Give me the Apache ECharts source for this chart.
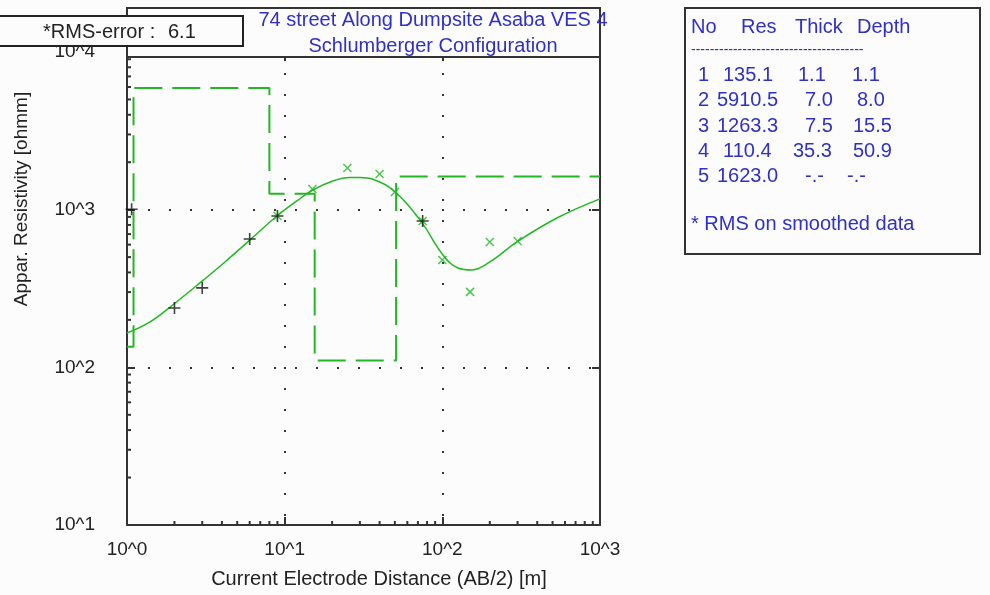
<!DOCTYPE html>
<html><head><meta charset="utf-8">
<script src="https://cdn.jsdelivr.net/npm/echarts@6/dist/echarts.min.js"></script>
<style>html,body{margin:0;padding:0;background:#fcfcfc}#c{width:990px;height:595px}</style>
</head><body><div id="c"></div>
<script>
// ---- data ----
const titleLines = ['74 street Along Dumpsite Asaba VES 4', 'Schlumberger Configuration'];
const rmsLabel = '*RMS-error :';
const rmsValue = '6.1';
const xAxisName = 'Current Electrode Distance (AB/2) [m]';
const yAxisName = 'Appar. Resistivity [ohmm]';
const xTickLabels = ['10^0', '10^1', '10^2', '10^3'];
const yTickLabels = ['10^1', '10^2', '10^3', '10^4'];

const tableHeader = ['No', 'Res', 'Thick', 'Depth'];
const layerNo = ['1', '2', '3', '4', '5'];
const layerRes = ['135.1', '5910.5', '1263.3', '110.4', '1623.0'];
const layerThick = ['1.1', '7.0', '7.5', '35.3', '-.-'];
const layerDepth = ['1.1', '8.0', '15.5', '50.9', '-.-'];
const tableNote = '* RMS on smoothed data';

const modelRes = [135.1, 5910.5, 1263.3, 110.4, 1623.0];
const modelDepth = [1.1, 8.0, 15.5, 50.9];

const fieldPlusX = [1.07, 2, 3, 6, 9, 75];
const fieldPlusY = [1006, 238, 319, 652, 912, 848];
const fieldCrossX = [9, 15, 25, 40, 50, 75, 100, 150, 200, 300];
const fieldCrossY = [912, 1353, 1838, 1684, 1295, 848, 480, 301, 624, 633];

const curveX = [1, 1.4, 2.02, 2.9, 4.18, 6.03, 8.93, 12.0, 15.1, 20.2, 25.9, 30, 36.3, 48.6, 72.1, 100.9, 125.6, 154, 200, 297, 533, 1000];
const curveY = [165, 194, 256, 343, 466, 643, 912, 1140, 1333, 1520, 1600, 1600, 1560, 1333, 861, 516, 427, 415, 466, 624, 885, 1170];

// ---- build ----
const green = '#22b822';
const axisColor = '#333';
const textColor = '#222';
const blue = '#3030c4';
const FONT = 'Liberation Sans, Arial, sans-serif';

const stepData = [];
let xs = 1;
modelRes.forEach((r, i) => {
  const xe = i < modelDepth.length ? modelDepth[i] : 1000;
  if (i > 0) stepData.push([xs, modelRes[i - 1]]);
  stepData.push([xs, r]);
  stepData.push([xe, r]);
  xs = xe;
});

const minorTicks = [];
[1, 10, 100].forEach(d => { for (let k = 2; k <= 9; k++) minorTicks.push([k * d, 10, 0]); });
[10, 100, 1000].forEach(d => { for (let k = 2; k <= 9; k++) minorTicks.push([1, k * d, 1]); });

const chart = echarts.init(document.getElementById('c'), null, {renderer: 'canvas'});

const baseX = {
  type: 'log', logBase: 10, min: 1, max: 1000, splitNumber: 3,
  axisLine: {show: true, lineStyle: {color: axisColor, width: 2}},
  axisTick: {show: true, inside: true, length: 8, lineStyle: {color: axisColor, width: 2}},
  minorTick: {show: false}
};
const baseY = {
  type: 'log', logBase: 10, min: 10, max: 10000, splitNumber: 3,
  axisLine: {show: true, lineStyle: {color: axisColor, width: 2}},
  axisTick: {show: true, inside: true, length: 8, lineStyle: {color: axisColor, width: 2}},
  minorTick: {show: false}
};

const tableColX = [[698, 698, 698, 698, 698], [723, 717, 717, 723, 717], [798, 805, 805, 793, 805], [852, 857, 853, 853, 847]];
const rowY = [75, 100, 126, 151, 176];
const tableGraphics = [];
const headerX = [691, 741, 795, 857];
const TF = '20px ' + FONT;
tableHeader.forEach((h, i) => tableGraphics.push({type: 'text', x: headerX[i], y: 27, z: 110, style: {text: h, fill: blue, font: TF, textVerticalAlign: 'middle'}}));
tableGraphics.push({type: 'text', x: 691, y: 50, z: 110, style: {text: '-'.repeat(37), fill: blue, font: '14px ' + FONT, textVerticalAlign: 'middle'}});
[layerNo, layerRes, layerThick, layerDepth].forEach((col, c) => {
  col.forEach((t, r) => tableGraphics.push({type: 'text', x: tableColX[c][r], y: rowY[r], z: 110, style: {text: t, fill: blue, font: TF, textVerticalAlign: 'middle'}}));
});
tableGraphics.push({type: 'text', x: 691, y: 224, z: 110, style: {text: tableNote, fill: blue, font: TF, textVerticalAlign: 'middle'}});

const option = {
  backgroundColor: '#fcfcfc',
  animation: false,
  grid: {left: 127, top: 52, width: 473, height: 473, containLabel: false, outerBoundsMode: 'none'},
  xAxis: [
    Object.assign({}, baseX, {
      position: 'bottom',
      axisLabel: {formatter: v => xTickLabels[Math.round(Math.log10(v))], margin: 15, fontSize: 19, color: textColor, fontFamily: FONT},
      splitLine: {show: true, lineStyle: {color: '#333', width: 2, type: [2, 19]}}
    }),
    Object.assign({}, baseX, {position: 'top', axisLabel: {show: false}, splitLine: {show: false}, axisTick: {show: true, inside: true, length: 9, lineStyle: {color: axisColor, width: 2}}})
  ],
  yAxis: [
    Object.assign({}, baseY, {
      position: 'left',
      axisLabel: {formatter: v => yTickLabels[Math.round(Math.log10(v)) - 1], margin: 32, fontSize: 19, color: textColor, fontFamily: FONT},
      splitLine: {show: true, lineStyle: {color: '#333', width: 2, type: [2, 19]}}
    }),
    Object.assign({}, baseY, {position: 'right', axisLabel: {show: false}, splitLine: {show: false}})
  ],
  series: [
    {
      type: 'custom', xAxisIndex: 0, yAxisIndex: 0, clip: false, silent: true, z: 3,
      data: minorTicks,
      renderItem: (params, api) => {
        const flag = api.value(2);
        if (flag === 0) {
          const p = api.coord([api.value(0), 10]);
          return {type: 'line', shape: {x1: p[0], y1: p[1], x2: p[0], y2: p[1] - 4}, style: {stroke: axisColor, lineWidth: 2}};
        }
        const p = api.coord([1, api.value(1)]);
        return {type: 'line', shape: {x1: p[0], y1: p[1], x2: p[0] + 4, y2: p[1]}, style: {stroke: axisColor, lineWidth: 2}};
      }
    },
    {
      type: 'line', data: stepData, showSymbol: false, silent: true, z: 4,
      lineStyle: {color: green, width: 2, type: [28, 10]}
    },
    {
      type: 'line', data: curveX.map((x, i) => [x, curveY[i]]), smooth: 0.4, showSymbol: false, silent: true, z: 5,
      lineStyle: {color: green, width: 1.5}
    },
    {
      type: 'scatter', data: fieldCrossX.map((x, i) => [x, fieldCrossY[i]]), z: 6,
      symbol: 'path://M0,0L10,10M10,0L0,10', symbolSize: 8,
      itemStyle: {color: 'transparent', borderColor: green, borderWidth: 1.5}
    },
    {
      type: 'scatter', data: fieldPlusX.map((x, i) => [x, fieldPlusY[i]]), z: 7,
      symbol: 'path://M0,5L10,5M5,0L5,10', symbolSize: 12,
      itemStyle: {color: 'transparent', borderColor: '#111', borderWidth: 1.6}
    }
  ],
  graphic: [
    {type: 'rect', z: 100, shape: {x: 127, y: 8, width: 473, height: 49}, style: {fill: '#fcfcfc', stroke: axisColor, lineWidth: 2}},
    {type: 'text', z: 101, x: 433, y: 20, style: {text: titleLines[0], fill: blue, font: TF, textAlign: 'center', textVerticalAlign: 'middle'}},
    {type: 'text', z: 101, x: 433, y: 46, style: {text: titleLines[1], fill: blue, font: TF, textAlign: 'center', textVerticalAlign: 'middle'}},
    {type: 'rect', z: 102, shape: {x: -2, y: 16, width: 245, height: 30}, style: {fill: '#fcfcfc', stroke: '#222', lineWidth: 2}},
    {type: 'text', z: 103, x: 43, y: 32, style: {text: rmsLabel, fill: textColor, font: TF, textVerticalAlign: 'middle'}},
    {type: 'text', z: 103, x: 168, y: 32, style: {text: rmsValue, fill: textColor, font: TF, textVerticalAlign: 'middle'}},
    {type: 'text', z: 103, x: 22, y: 199, rotation: Math.PI / 2, style: {text: yAxisName, fill: textColor, font: '19px ' + FONT, textAlign: 'center', textVerticalAlign: 'middle'}},
    {type: 'text', z: 103, x: 379, y: 579, style: {text: xAxisName, fill: textColor, font: TF, textAlign: 'center', textVerticalAlign: 'middle'}},
    {type: 'rect', z: 105, shape: {x: 685, y: 8, width: 295, height: 246}, style: {fill: '#fcfcfc', stroke: axisColor, lineWidth: 2}}
  ].concat(tableGraphics)
};
chart.setOption(option);
</script>
</body></html>
